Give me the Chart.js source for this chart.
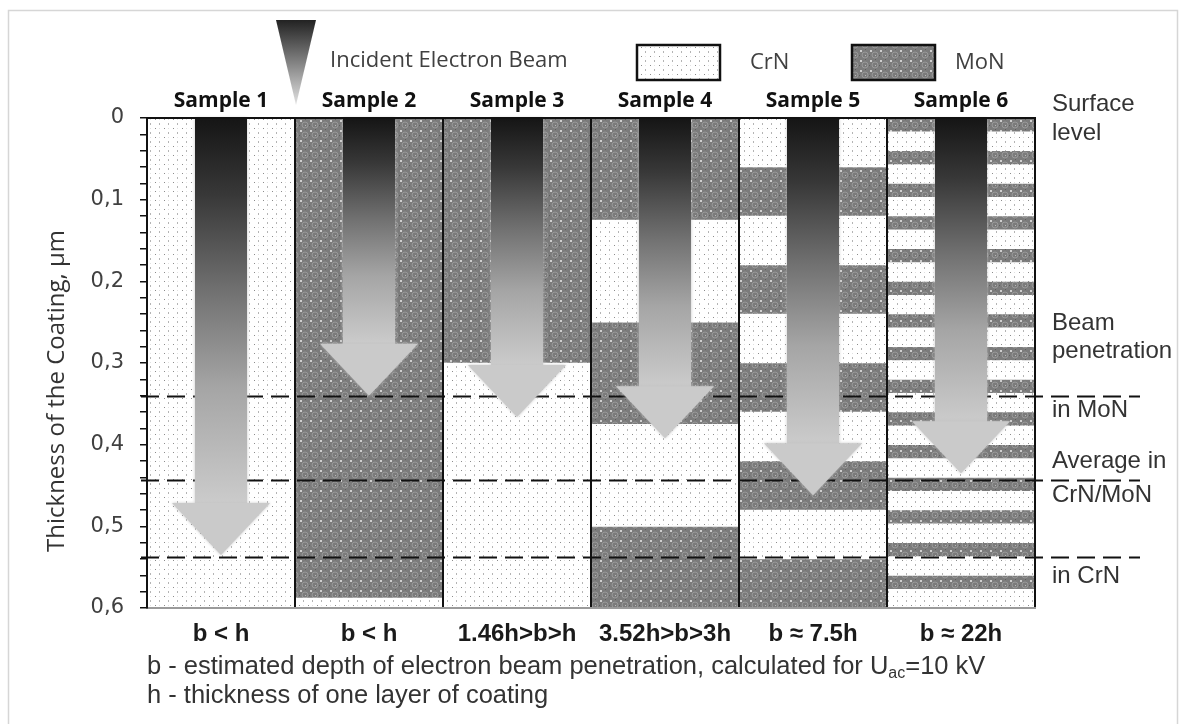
<!DOCTYPE html>
<html>
<head>
<meta charset="utf-8">
<script src="https://cdn.jsdelivr.net/npm/chart.js@4.4.1/dist/chart.umd.min.js"></script>
<style>
  html, body { margin: 0; padding: 0; background: #fff; }
  #wrap { width: 1186px; height: 724px; }
</style>
</head>
<body>
<div id="wrap"><canvas id="coatingChart" width="1186" height="724"></canvas></div>
<script>
// categories and labels
const samples = ["Sample 1", "Sample 2", "Sample 3", "Sample 4", "Sample 5", "Sample 6"];
const conditions = ["b < h", "b < h", "1.46h>b>h", "3.52h>b>3h", "b \u2248 7.5h", "b \u2248 22h"];

// layer boundaries (µm, from the surface down) and the material of the first layer
const sample1Bounds = [0, 0.6];
const sample2Bounds = [0, 0.588, 0.6];
const sample3Bounds = [0, 0.3, 0.6];
const sample4Bounds = [0, 0.125, 0.25, 0.375, 0.5, 0.6];
const sample5Bounds = [0, 0.06, 0.12, 0.18, 0.24, 0.3, 0.36, 0.42, 0.48, 0.54, 0.6];
const sample6Bounds = [0, 0.017, 0.04, 0.057, 0.08, 0.097, 0.12, 0.137, 0.16, 0.177, 0.2,
  0.217, 0.24, 0.257, 0.28, 0.297, 0.32, 0.337, 0.36, 0.377, 0.4,
  0.417, 0.44, 0.457, 0.48, 0.497, 0.52, 0.537, 0.56, 0.577, 0.6];
const firstLayer = ["CrN", "MoN", "MoN", "MoN", "CrN", "MoN"];

// estimated beam penetration depth per sample (arrow tip), µm
const beamDepth = [0.535, 0.34, 0.366, 0.392, 0.462, 0.435];

// reference depths (dashed lines)
const refDepths = [0.34, 0.443, 0.538];

const allBounds = [sample1Bounds, sample2Bounds, sample3Bounds, sample4Bounds, sample5Bounds, sample6Bounds];

function buildLayers(material) {
  const out = [];
  allBounds.forEach((bounds, i) => {
    let mat = firstLayer[i];
    for (let k = 0; k < bounds.length - 1; k++) {
      if (mat === material) out.push({ x: samples[i], y: [bounds[k], bounds[k + 1]] });
      mat = mat === "CrN" ? "MoN" : "CrN";
    }
  });
  return out;
}

function makePattern(kind) {
  const c = document.createElement("canvas");
  const g = c.getContext("2d");
  if (kind === "CrN") {
    c.width = 9; c.height = 9;
    g.fillStyle = "#ffffff"; g.fillRect(0, 0, 9, 9);
    g.fillStyle = "#8c8c8c"; g.fillRect(2, 2, 1, 1);
    g.fillStyle = "#b4b4b4"; g.fillRect(6, 6, 1, 2);
    g.fillStyle = "#e2e2e2"; g.fillRect(6, 2, 1, 1);
  } else {
    c.width = 10; c.height = 10;
    g.fillStyle = "#7b7b7b"; g.fillRect(0, 0, 10, 10);
    g.strokeStyle = "#999999"; g.lineWidth = 1;
    g.beginPath(); g.arc(5, 5, 3, 0, Math.PI * 2); g.stroke();
    g.fillStyle = "#cfcfcf"; g.fillRect(0, 0, 2, 2);
    g.fillStyle = "#b8b8b8"; g.fillRect(5, 5, 1, 1);
    g.fillStyle = "#5c5c5c"; g.fillRect(9, 5, 1, 1); g.fillRect(5, 9, 1, 1);
  }
  return g.createPattern(c, "repeat");
}

const crnPattern = makePattern("CrN");
const monPattern = makePattern("MoN");

function drawArrow(ctx, cx, top, tip) {
  const shaftHalf = 26, headHalf = 49, headH = 52;
  const shoulder = tip - headH;
  const grad = ctx.createLinearGradient(0, top, 0, shoulder);
  grad.addColorStop(0, "#151515");
  grad.addColorStop(0.2, "#383838");
  grad.addColorStop(0.45, "#717171");
  grad.addColorStop(0.7, "#a5a5a5");
  grad.addColorStop(1, "#cbcbcb");
  ctx.save();
  ctx.shadowColor = "rgba(190,190,190,0.9)";
  ctx.shadowBlur = 3;
  ctx.fillStyle = grad;
  ctx.fillRect(cx - shaftHalf, top, shaftHalf * 2, shoulder - top + 1);
  ctx.fillStyle = "#cacaca";
  ctx.beginPath();
  ctx.moveTo(cx - headHalf, shoulder);
  ctx.lineTo(cx + headHalf, shoulder);
  ctx.lineTo(cx, tip);
  ctx.closePath();
  ctx.fill();
  ctx.restore();
}

const decor = {
  id: "decor",
  beforeDraw(chart) {
    const ctx = chart.ctx;
    ctx.save();
    ctx.fillStyle = "#fff";
    ctx.fillRect(0, 0, chart.width, chart.height);
    ctx.strokeStyle = "#d6d6d6";
    ctx.lineWidth = 1.5;
    ctx.strokeRect(8.5, 10.5, 1169, 730);
    ctx.restore();
  },
  afterDatasetsDraw(chart) {
    const ctx = chart.ctx;
    const x = chart.scales.x, y = chart.scales.y;
    const area = chart.chartArea;
    // dashed reference lines
    ctx.save();
    ctx.strokeStyle = "#111";
    ctx.lineWidth = 2;
    ctx.setLineDash([18, 8]);
    refDepths.forEach((d) => {
      const py = Math.round(y.getPixelForValue(d)) + 0.5;
      ctx.beginPath();
      ctx.moveTo(area.left - 6, py);
      ctx.lineTo(area.right + 105, py);
      ctx.stroke();
    });
    ctx.restore();
    // beam arrows
    beamDepth.forEach((d, i) => {
      drawArrow(ctx, x.getPixelForValue(i), y.getPixelForValue(0), y.getPixelForValue(d));
    });
  },
  afterDraw(chart) {
    const ctx = chart.ctx;
    const y = chart.scales.y;
    const area = chart.chartArea;
    ctx.save();
    // incident beam triangle
    const tg = ctx.createLinearGradient(0, 20, 0, 105);
    tg.addColorStop(0, "#222");
    tg.addColorStop(1, "#e2e2e2");
    ctx.fillStyle = tg;
    ctx.beginPath();
    ctx.moveTo(276, 20); ctx.lineTo(316, 20); ctx.lineTo(296, 105); ctx.closePath();
    ctx.fill();
    ctx.fillStyle = "#404040";
    ctx.textBaseline = "middle";
    ctx.font = "22px 'Open Sans'";
    ctx.fillText("Incident Electron Beam", 330, 61);
    // material legend
    [[crnPattern, 637, "CrN", 750], [monPattern, 852, "MoN", 955]].forEach(([pat, bx, txt, tx]) => {
      ctx.fillStyle = pat;
      ctx.fillRect(bx, 45, 83, 35);
      ctx.strokeStyle = "#111";
      ctx.lineWidth = 2.5;
      ctx.strokeRect(bx, 45, 83, 35);
      ctx.fillStyle = "#404040";
      ctx.fillText(txt, tx, 63);
    });
    // axis title
    ctx.save();
    ctx.translate(57, 391);
    ctx.rotate(-Math.PI / 2);
    ctx.textAlign = "center";
    ctx.font = "24px 'Open Sans'";
    ctx.fillStyle = "#333";
    ctx.fillText("Thickness of the Coating, \u00b5m", 0, 0);
    ctx.restore();
    // right side notes
    ctx.font = "24px 'Liberation Sans'";
    ctx.fillStyle = "#333";
    const lx = area.right + 17;
    const y0 = y.getPixelForValue(0);
    const [r1, r2, r3] = refDepths.map((d) => y.getPixelForValue(d));
    ctx.fillText("Surface", lx, y0 - 14);
    ctx.fillText("level", lx, y0 + 15);
    ctx.fillText("Beam", lx, r1 - 72);
    ctx.fillText("penetration", lx, r1 - 44);
    ctx.fillText("in MoN", lx, r1 + 15);
    ctx.fillText("Average in", lx, r2 - 18);
    ctx.fillText("CrN/MoN", lx, r2 + 16);
    ctx.fillText("in CrN", lx, r3 + 19);
    // footnotes
    ctx.font = "25.5px 'Liberation Sans'";
    let fx = area.left;
    const t1 = "b - estimated depth of electron beam penetration, calculated for U";
    ctx.fillText(t1, fx, 667);
    fx += ctx.measureText(t1).width;
    ctx.font = "16px 'Liberation Sans'";
    ctx.fillText("ac", fx, 674);
    fx += ctx.measureText("ac").width;
    ctx.font = "25.5px 'Liberation Sans'";
    ctx.fillText("=10 kV", fx, 667);
    ctx.fillText("h - thickness of one layer of coating", area.left, 696);
    ctx.restore();
  }
};

const ctx = document.getElementById("coatingChart").getContext("2d");
new Chart(ctx, {
  type: "bar",
  data: {
    labels: samples,
    datasets: [
      {
        label: "CrN",
        data: buildLayers("CrN"),
        backgroundColor: crnPattern,
        borderWidth: 0,
        grouped: false,
        barPercentage: 1,
        categoryPercentage: 1,
      },
      {
        label: "MoN",
        data: buildLayers("MoN"),
        backgroundColor: monPattern,
        borderWidth: 0,
        grouped: false,
        barPercentage: 1,
        categoryPercentage: 1,
      },
    ],
  },
  options: {
    responsive: false,
    animation: false,
    layout: { padding: { left: 8, right: 151, top: 88, bottom: 76 } },
    plugins: { legend: { display: false }, tooltip: { enabled: false } },
    scales: {
      x: {
        type: "category",
        position: "bottom",
        offset: true,
        grid: { offset: true, color: "#111", lineWidth: 2, drawTicks: false, z: 1 },
        border: { color: "#9a9a9a", width: 2, z: 1 },
        ticks: {
          callback: (v, i) => conditions[i],
          font: { family: "'Liberation Sans'", size: 24, weight: "bold" },
          color: "#1a1a1a",
          padding: 12,
        },
        afterFit: (s) => { s.height = 40; },
      },
      xTop: {
        type: "category",
        position: "top",
        labels: samples,
        offset: true,
        grid: { display: false, drawTicks: false },
        border: { color: "#111", width: 2, z: 1 },
        ticks: {
          font: { family: "'Open Sans'", size: 21, weight: "bold" },
          color: "#111",
          padding: 4,
        },
        afterFit: (s) => { s.height = 30; },
      },
      y: {
        type: "linear",
        reverse: true,
        min: 0,
        max: 0.6,
        ticks: {
          stepSize: 0.02,
          autoSkip: false,
          padding: 16,
          font: { family: "'DejaVu Sans'", size: 21 },
          color: "#404040",
          callback: (v) => {
            const t = v * 10;
            if (Math.abs(t - Math.round(t)) > 1e-6) return "";
            return Math.round(t) === 0 ? "0" : (Math.round(t) / 10).toFixed(1).replace(".", ",");
          },
        },
        grid: { drawOnChartArea: false, tickLength: 7, color: "#111", lineWidth: 1.5 },
        border: { color: "#111", width: 2, z: 1 },
        afterFit: (s) => { s.width = 139; },
      },
    },
  },
  plugins: [decor],
});
</script>
</body>
</html>
